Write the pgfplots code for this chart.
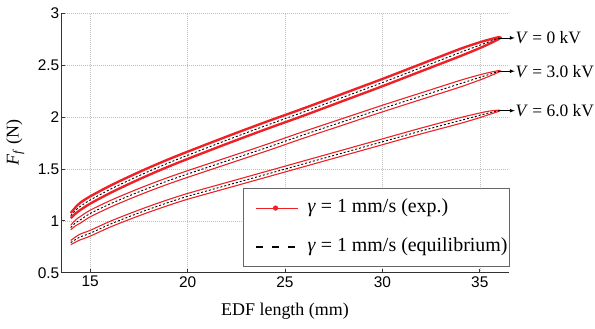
\documentclass[border=0pt]{standalone}
\usepackage{fontspec}
\setmainfont{Liberation Serif}
\newfontfamily\ticksf{Liberation Sans}
\usepackage{pgfplots}
\pgfplotsset{compat=1.18}
\definecolor{myred}{rgb}{0.94,0.13,0.15}
\pgfplotsset{
  expleg/.style={legend image code/.code={\path[draw=none, fill=none] (-10bp,-1bp) rectangle (52bp,1bp); \draw[myred, line width=0.9pt, solid] (0bp,0bp) -- (42bp,0bp); \fill[myred] (20bp,0bp) circle (2.2bp);}},
  eqleg/.style={legend image code/.code={\path[draw=none, fill=none] (-10bp,-1bp) rectangle (52bp,1bp); \draw[black, line width=1.3pt, dash pattern=on 7bp off 9bp] (0bp,0bp) -- (42bp,0bp);}},
}
\begin{document}
\begin{tikzpicture}
\useasboundingbox (-61bp,-56.3bp) rectangle (534bp,272.7bp);
\begin{axis}[
  at={(0,0)}, anchor=south west, scale only axis,
  width=448bp, height=259.7bp,
  xmin=13.5, xmax=36.5, ymin=0.5, ymax=3,
  xtick={15,20,25,30,35}, ytick={0.5,1,1.5,2,2.5,3},
  axis lines*=left,
  axis line style={black!80, line width=0.7pt},
  tick style={black!80, line width=0.6pt},
  major tick length=4bp,
  tick align=inside,
  grid=major,
  major grid style={gray!50, line width=0.5pt, dash pattern=on 0.8bp off 1.2bp},
  /pgf/number format/assume math mode=true,
  ticklabel style={font=\ticksf\fontsize{15.5}{17}\selectfont},
  yticklabel style={inner sep=1.5bp},
  xlabel={EDF length (mm)},
  ylabel={\textit{F}\textsubscript{\textit{f}} (N)},
  label style={font=\fontsize{18}{21}\selectfont},
  xlabel style={at={(axis description cs:0.5,-0.1475)}, anchor=center},
  ylabel style={at={(axis description cs:-0.102,0.5)}, anchor=center},
  clip=false,
  legend style={at={(1.002,0.022)}, anchor=south east, draw=black!60, line width=0.8pt,
    fill=white, font=\fontsize{20}{23}\selectfont, row sep=20bp,
    inner xsep=2bp, inner ysep=10bp, nodes={inner sep=0pt, text height=14bp, text depth=5bp}},
  legend cell align=left,
]
% V = 0 kV
\addplot[myred, line width=2.4pt, smooth, forget plot] coordinates {
(14,1.025) (14.25,1.07) (14.5,1.105) (15,1.165) (16,1.265) (17,1.355) (18,1.44) (19,1.52) (20,1.595) (22,1.74) (24,1.88) (26,2.015) (28,2.155) (30,2.295) (32,2.44) (34,2.585) (35,2.662) (35.5,2.705) (36,2.752)
(36,2.768) (35.5,2.745) (35,2.718) (34,2.655) (32,2.51) (30,2.365) (28,2.225) (26,2.085) (24,1.95) (22,1.81) (20,1.665) (19,1.59) (18,1.51) (17,1.425) (16,1.335) (15,1.235) (14.5,1.175) (14.25,1.13) (14,1.075)
};
% V = 3 kV
\addplot[myred, line width=1.1pt, smooth, forget plot] coordinates {
(14,0.913) (14.25,0.952) (14.5,0.978) (15,1.038) (16,1.128) (17,1.208) (18,1.283) (19,1.353) (20,1.418) (22,1.543) (24,1.668) (26,1.798) (28,1.923) (30,2.048) (32,2.168) (34,2.288) (35,2.355) (35.5,2.392) (36,2.434)
(36,2.446) (35.5,2.428) (35,2.405) (34,2.352) (32,2.232) (30,2.112) (28,1.987) (26,1.862) (24,1.732) (22,1.607) (20,1.482) (19,1.417) (18,1.347) (17,1.272) (16,1.192) (15,1.102) (14.5,1.042) (14.25,1.008) (14,0.957)
};
% V = 6 kV
\addplot[myred, line width=1.1pt, smooth, forget plot] coordinates {
(14,0.77) (14.25,0.795) (14.5,0.817) (15,0.852) (16,0.937) (17,1.012) (18,1.082) (19,1.147) (20,1.207) (22,1.312) (24,1.417) (26,1.522) (28,1.627) (30,1.732) (32,1.837) (34,1.937) (35,1.993) (35.5,2.024) (36,2.055)
(36,2.065) (35.5,2.056) (35,2.037) (34,1.993) (32,1.893) (30,1.788) (28,1.683) (26,1.578) (24,1.473) (22,1.368) (20,1.263) (19,1.203) (18,1.138) (17,1.068) (16,0.993) (15,0.908) (14.5,0.873) (14.25,0.845) (14,0.81)
};
% equilibrium
\addplot[black, line width=0.9pt, dash pattern=on 2bp off 2bp, smooth, forget plot] coordinates {
(14,1.05) (14.25,1.10) (14.5,1.14) (15,1.20) (16,1.30) (17,1.39) (18,1.475) (19,1.555) (20,1.63) (22,1.775) (24,1.915) (26,2.05) (28,2.19) (30,2.33) (32,2.475) (34,2.62) (35,2.69) (35.5,2.725) (36,2.76)
};
\addplot[black, line width=0.9pt, dash pattern=on 2bp off 2bp, smooth, forget plot] coordinates {
(14,0.935) (14.25,0.98) (14.5,1.01) (15,1.07) (16,1.16) (17,1.24) (18,1.315) (19,1.385) (20,1.45) (22,1.575) (24,1.70) (26,1.83) (28,1.955) (30,2.08) (32,2.20) (34,2.32) (35,2.38) (35.5,2.41) (36,2.44)
};
\addplot[black, line width=0.9pt, dash pattern=on 2bp off 2bp, smooth, forget plot] coordinates {
(14,0.79) (14.25,0.82) (14.5,0.845) (15,0.88) (16,0.965) (17,1.04) (18,1.11) (19,1.175) (20,1.235) (22,1.34) (24,1.445) (26,1.55) (28,1.655) (30,1.76) (32,1.865) (34,1.965) (35,2.015) (35.5,2.04) (36,2.06)
};
\addlegendimage{expleg}
\addlegendentry{\textit{γ} = 1 mm/s (exp.)}
\addlegendimage{eqleg}
\addlegendentry{\textit{γ} = 1 mm/s (equilibrium)}
% annotations
\draw[black, line width=0.7pt, -latex] (axis cs:36.0,2.76) -- (axis cs:36.8,2.76) node[right, inner sep=0.5bp, font=\fontsize{17.5}{20}\selectfont] {\textit{V} = 0 kV};
\draw[black, line width=0.7pt, -latex] (axis cs:36.0,2.44) -- (axis cs:36.8,2.44) node[right, inner sep=0.5bp, font=\fontsize{17.5}{20}\selectfont] {\textit{V} = 3.0 kV};
\draw[black, line width=0.7pt, -latex] (axis cs:36.0,2.06) -- (axis cs:36.8,2.06) node[right, inner sep=0.5bp, font=\fontsize{17.5}{20}\selectfont] {\textit{V} = 6.0 kV};
\end{axis}
\end{tikzpicture}
\end{document}
